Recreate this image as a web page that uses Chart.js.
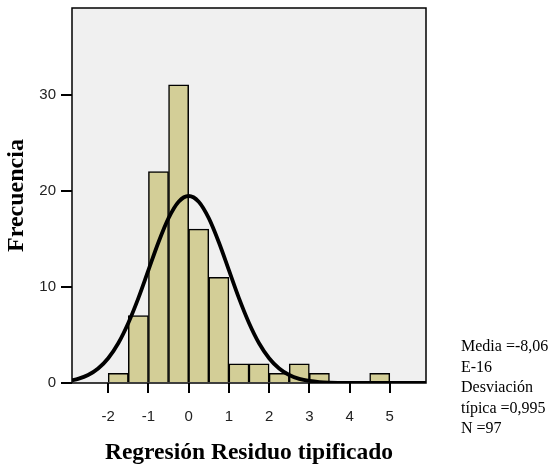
<!DOCTYPE html>
<html>
<head>
<meta charset="utf-8">
<script src="https://cdn.jsdelivr.net/npm/chart.js@4.4.0/dist/chart.umd.min.js"></script>
<style>
  html, body { margin: 0; padding: 0; background: #fff; }
  canvas { display: block; }
</style>
</head>
<body>
<canvas id="histChart" width="552" height="467"></canvas>
<script>
// Histograma de residuos tipificados (intervalos de 0,5)
const binCenters = [-1.75, -1.25, -0.75, -0.25, 0.25, 0.75, 1.25, 1.75, 2.25, 2.75, 3.25, 4.75];
const frecuencias = [1, 7, 22, 31, 16, 11, 2, 2, 1, 2, 1, 1];

// Curva normal
const curvaX = [-2.9, -2.75, -2.5, -2.25, -2, -1.75, -1.5, -1.25, -1, -0.75, -0.5, -0.25, 0,
                0.25, 0.5, 0.75, 1, 1.25, 1.5, 1.75, 2, 2.25, 2.5, 2.75, 3, 3.25, 3.5, 3.75, 4, 4.5, 5.9];
const curvaY = [0.28, 0.43, 0.83, 1.51, 2.58, 4.14, 6.25, 8.83, 11.74, 14.64, 17.14, 18.85, 19.45,
                18.85, 17.14, 14.64, 11.74, 8.83, 6.25, 4.14, 2.58, 1.51, 0.83, 0.43, 0.21, 0.09, 0.04, 0.02, 0.01, 0, 0];

const xTicks = [-2, -1, 0, 1, 2, 3, 4, 5];
const yTicks = [0, 10, 20, 30];

const leyenda = ['Media =-8,06', 'E-16', 'Desviación', 'típica =0,995', 'N =97'];

const PAD = { left: 0, top: 8, right: 126, bottom: 0 };

const fondoPlugin = {
  id: 'fondo',
  beforeDraw(chart) {
    const { ctx, chartArea: a } = chart;
    ctx.save();
    ctx.fillStyle = '#f0f0f0';
    ctx.fillRect(a.left, a.top, a.right - a.left, a.bottom - a.top);
    ctx.restore();
  },
  beforeDatasetsDraw(chart) {
    const { ctx, chartArea: a } = chart;
    ctx.save();
    ctx.strokeStyle = '#000';
    ctx.lineWidth = 1.5;
    ctx.strokeRect(a.left, a.top, a.right - a.left, a.bottom - a.top);
    ctx.restore();
  },
  afterDraw(chart) {
    const ctx = chart.ctx;
    ctx.save();
    ctx.fillStyle = '#000';
    ctx.font = '16px "Liberation Serif", serif';
    ctx.textBaseline = 'middle';
    ctx.textAlign = 'left';
    leyenda.forEach((t, i) => ctx.fillText(t, 461, 347 + i * 20.5));
    ctx.restore();
  }
};

const sinPadding = s => {
  s.paddingTop = 0; s.paddingBottom = 0; s.paddingLeft = 0; s.paddingRight = 0;
};

const ctx = document.getElementById('histChart').getContext('2d');
new Chart(ctx, {
  type: 'bar',
  data: {
    datasets: [
      {
        type: 'line',
        data: curvaX.map((x, i) => ({ x: x, y: curvaY[i] })),
        borderColor: '#000',
        borderWidth: 3.8,
        pointRadius: 0,
        cubicInterpolationMode: 'monotone',
        fill: false,
        order: 0
      },
      {
        type: 'bar',
        data: binCenters.map((x, i) => ({ x: x, y: frecuencias[i] })),
        backgroundColor: '#d3ce97',
        borderColor: '#000',
        borderWidth: 1.5,
        borderSkipped: 'bottom',
        barPercentage: 1,
        categoryPercentage: 1,
        order: 1
      }
    ]
  },
  options: {
    responsive: false,
    devicePixelRatio: 1,
    animation: false,
    layout: { padding: PAD },
    plugins: {
      legend: { display: false },
      tooltip: { enabled: false }
    },
    scales: {
      x: {
        type: 'linear',
        min: -2.9,
        max: 5.9,
        offset: false,
        afterBuildTicks: s => { s.ticks = xTicks.map(v => ({ value: v })); },
        afterFit: s => { s.height = 467 - 383 - PAD.bottom; sinPadding(s); },
        grid: { offset: false, drawOnChartArea: false, drawTicks: true, tickLength: 10, color: '#000', lineWidth: 2 },
        border: { display: false },
        ticks: {
          font: { family: '"Liberation Sans", Arial, sans-serif', size: 15 },
          color: '#222',
          padding: 15,
          maxRotation: 0
        },
        title: {
          display: true,
          text: 'Regresión Residuo tipificado',
          font: { family: '"Liberation Serif", serif', size: 23.5, weight: 'bold' },
          color: '#000',
          padding: { top: 0, bottom: 0 }
        }
      },
      y: {
        min: 0,
        max: 39,
        afterBuildTicks: s => { s.ticks = yTicks.map(v => ({ value: v })); },
        afterFit: s => { s.width = 72 - PAD.left; sinPadding(s); },
        grid: { drawOnChartArea: false, drawTicks: true, tickLength: 11, color: '#000', lineWidth: 2 },
        border: { display: false },
        ticks: {
          font: { family: '"Liberation Sans", Arial, sans-serif', size: 15 },
          color: '#222',
          padding: 5
        },
        title: {
          display: true,
          text: 'Frecuencia',
          font: { family: '"Liberation Serif", serif', size: 24, weight: 'bold' },
          color: '#000',
          padding: { top: 2, bottom: 0 }
        }
      }
    }
  },
  plugins: [fondoPlugin]
});
</script>
</body>
</html>
